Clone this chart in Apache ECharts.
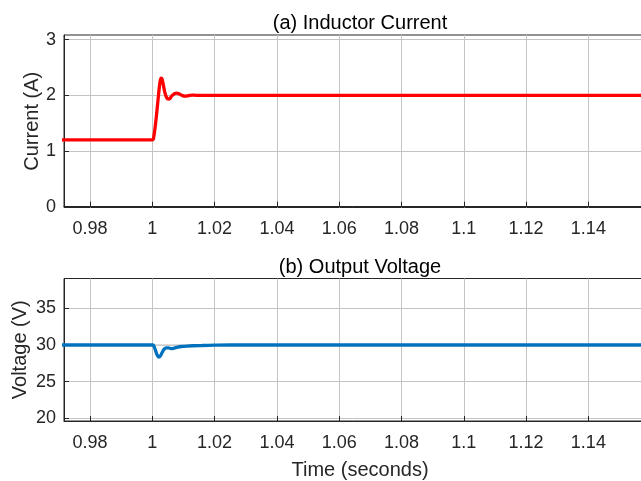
<!DOCTYPE html>
<html>
<head>
<meta charset="utf-8">
<script src="https://cdn.jsdelivr.net/npm/echarts@6/dist/echarts.min.js"></script>
<style>html,body{margin:0;padding:0;background:#fff;}#c{width:641px;height:481px;}</style>
</head>
<body>
<div id="c"></div>
<script>
// Time ticks (seconds)
const timeTicks = [0.98, 1.00, 1.02, 1.04, 1.06, 1.08, 1.10, 1.12, 1.14];
const currentTicks = [0, 1, 2, 3];
const voltageTicks = [20, 25, 30, 35];

// (a) Inductor current
const currentTime = [0.97, 1.0, 1.0003, 1.0008, 1.0013, 1.0018, 1.0022, 1.0025, 1.0028, 1.0031, 1.0035, 1.004, 1.0046, 1.0052, 1.0056, 1.006, 1.0066, 1.0072, 1.0078, 1.0083, 1.009, 1.0097, 1.0105, 1.0113, 1.012, 1.013, 1.014, 1.016, 1.02, 1.16];
const currentVals = [1.2, 1.2, 1.21, 1.38, 1.62, 1.9, 2.12, 2.25, 2.31, 2.30, 2.2, 2.06, 1.96, 1.935, 1.94, 1.97, 2.01, 2.035, 2.04, 2.035, 2.015, 1.995, 1.985, 1.99, 2.0, 2.005, 2.0, 2.0, 2.0, 2.0];

// (b) Output voltage
const voltageTime = [0.97, 1.0, 1.0004, 1.001, 1.0016, 1.0021, 1.0026, 1.0032, 1.0038, 1.0045, 1.0052, 1.006, 1.0068, 1.0076, 1.0085, 1.0095, 1.011, 1.013, 1.016, 1.02, 1.025, 1.16];
const voltageVals = [30, 30, 29.95, 29.3, 28.6, 28.35, 28.5, 29.0, 29.45, 29.6, 29.6, 29.5, 29.55, 29.65, 29.75, 29.8, 29.85, 29.9, 29.93, 29.97, 30, 30];
const refTime = [0.97, 1.16];
const refVoltage = [30, 30];

const FONT = 'Liberation Sans, Arial, sans-serif';
const TXT = '#262626';
const zip = (a, b) => a.map((v, i) => [v, b[i]]);
const fmtT = v => String(parseFloat(Number(v).toFixed(2)));

function xAx(gi) {
  return {
    type: 'value', gridIndex: gi, min: 0.97165, max: 1.1585,
    axisLine: {show: true, lineStyle: {color: TXT, width: 1}},
    axisTick: {show: true, inside: true, length: 5, customValues: timeTicks, lineStyle: {color: TXT}},
    axisLabel: {customValues: timeTicks, formatter: fmtT, color: TXT, fontFamily: FONT, fontSize: 18, margin: 13},
    splitLine: {show: true, lineStyle: {color: '#c4c4c4', width: 1}}
  };
}
function yAx(gi, min, max, ticks, name, gap) {
  return {
    type: 'value', gridIndex: gi, min: min, max: max,
    name: name, nameLocation: 'middle', nameGap: gap, nameMoveOverlap: false,
    nameTextStyle: {color: TXT, fontFamily: FONT, fontSize: 20},
    axisLine: {show: true, lineStyle: {color: TXT, width: 1}},
    axisTick: {show: true, inside: true, length: 5, customValues: ticks, lineStyle: {color: TXT}},
    axisLabel: {customValues: ticks, color: TXT, fontFamily: FONT, fontSize: 18, margin: 8},
    splitLine: {show: true, lineStyle: {color: '#c4c4c4', width: 1}}
  };
}

const chart = echarts.init(document.getElementById('c'), null, {renderer: 'canvas'});
chart.setOption({
  backgroundColor: '#fff',
  animation: false,
  title: [
    {text: '(a) Inductor Current', left: 355, top: 8, textAlign: 'center', textStyle: {color: '#000', fontFamily: FONT, fontSize: 20, fontWeight: 'normal'}},
    {text: '(b) Output Voltage', left: 355, top: 252, textAlign: 'center', textStyle: {color: '#000', fontFamily: FONT, fontSize: 20, fontWeight: 'normal'}},
    {text: 'Time (seconds)', left: 355, top: 455, textAlign: 'center', textStyle: {color: TXT, fontFamily: FONT, fontSize: 20, fontWeight: 'normal'}}
  ],
  grid: [
    {left: 64, top: 35, width: 582, height: 172.5, show: true, borderColor: TXT, borderWidth: 1, backgroundColor: 'transparent', containLabel: false, outerBoundsMode: 'none'},
    {left: 64, top: 278.5, width: 582, height: 142.5, show: true, borderColor: TXT, borderWidth: 1, backgroundColor: 'transparent', containLabel: false, outerBoundsMode: 'none'}
  ],
  xAxis: [xAx(0), xAx(1)],
  yAxis: [
    yAx(0, -0.015, 3.085, currentTicks, 'Current (A)', 22),
    yAx(1, 19.6, 39.1, voltageTicks, 'Voltage (V)', 34)
  ],
  series: [
    {type: 'line', xAxisIndex: 0, yAxisIndex: 0, data: zip(currentTime, currentVals), showSymbol: false, smooth: 0.3, lineStyle: {color: '#ff0000', width: 3.3}},
    {type: 'line', xAxisIndex: 1, yAxisIndex: 1, data: zip(refTime, refVoltage), showSymbol: false, lineStyle: {color: '#cfcfcf', width: 1.5}},
    {type: 'line', xAxisIndex: 1, yAxisIndex: 1, data: zip(voltageTime, voltageVals), showSymbol: false, smooth: 0.3, lineStyle: {color: '#0072bd', width: 3.3}}
  ]
});
</script>
</body>
</html>
